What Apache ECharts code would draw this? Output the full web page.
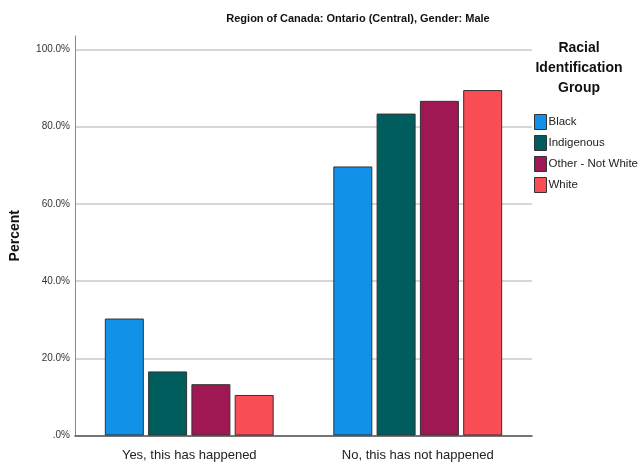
<!DOCTYPE html>
<html>
<head>
<meta charset="utf-8">
<script src="https://cdn.jsdelivr.net/npm/echarts@6/dist/echarts.min.js"></script>
<style>
  html, body { margin: 0; padding: 0; background: #fff; }
  #chart { width: 642px; height: 465px; }
</style>
</head>
<body>
<div id="chart"></div>
<script>
// categories on the x axis
const answers = ["Yes, this has happened", "No, this has not happened"];
// groups (legend)
const groups = ["Black", "Indigenous", "Other - Not White", "White"];
const groupColors = ["#1192e8", "#005d5d", "#9f1853", "#fa4d56"];
// percent per group, in answer order
const black = [30.3, 69.7];
const indigenous = [16.6, 83.4];
const otherNotWhite = [13.3, 86.7];
const white = [10.5, 89.5];
const values = [black, indigenous, otherNotWhite, white];

// no narrow font installed, so sizes are picked to match text widths
const sans = '"Liberation Sans", Arial, sans-serif';

const chart = echarts.init(document.getElementById("chart"));

const option = {
  backgroundColor: "#fff",
  animation: false,
  title: {
    text: "Region of Canada: Ontario (Central), Gender: Male",
    left: 353,
    textAlign: "center",
    top: 8,
    textStyle: { fontFamily: sans, fontSize: 11, fontWeight: "bold", color: "#111" }
  },
  // legend title, three lines
  graphic: [
    {
      type: "text",
      x: 579,
      y: 38,
      style: {
        text: "Racial\nIdentification\nGroup",
        textAlign: "center",
        fill: "#111",
        font: 'bold 14px "Liberation Sans", Arial, sans-serif',
        lineHeight: 20
      }
    }
  ],
  legend: {
    orient: "vertical",
    left: 529,
    top: 109,
    itemWidth: 12,
    itemHeight: 15,
    itemGap: 5,
    icon: "rect",
    data: groups,
    textStyle: { fontFamily: sans, fontSize: 11.5, color: "#222", padding: [0, 0, 0, -3] },
    itemStyle: { borderColor: "#333", borderWidth: 1 }
  },
  grid: { left: 74, top: 36, width: 458, bottom: 29.5, containLabel: false },
  xAxis: {
    type: "category",
    data: answers,
    axisLine: { lineStyle: { color: "#555", width: 1.5 } },
    axisTick: { show: false },
    axisLabel: { fontFamily: sans, fontSize: 13, color: "#222", margin: 13 }
  },
  yAxis: {
    type: "value",
    min: 0,
    max: 103.5,
    interval: 20,
    name: "Percent",
    nameLocation: "middle",
    nameRotate: 90,
    nameGap: 53,
    nameTextStyle: { fontFamily: sans, fontSize: 14, fontWeight: "bold", color: "#111" },
    axisLine: { show: true, lineStyle: { color: "#888", width: 1 } },
    axisTick: { show: false },
    axisLabel: {
      fontFamily: sans, fontSize: 10, color: "#333", margin: 5,
      showMaxLabel: false,
      formatter: (v) => (v === 0 ? ".0%" : v.toFixed(1) + "%")
    },
    splitLine: { show: true, showMaxLine: false, lineStyle: { color: "#d6d6d6", width: 2 } }
  },
  series: groups.map((g, i) => ({
    name: g,
    type: "bar",
    data: values[i],
    barWidth: 39,
    barGap: "11%",
    itemStyle: { color: groupColors[i], borderColor: "#333", borderWidth: 1 }
  }))
};

chart.setOption(option);
</script>
</body>
</html>
